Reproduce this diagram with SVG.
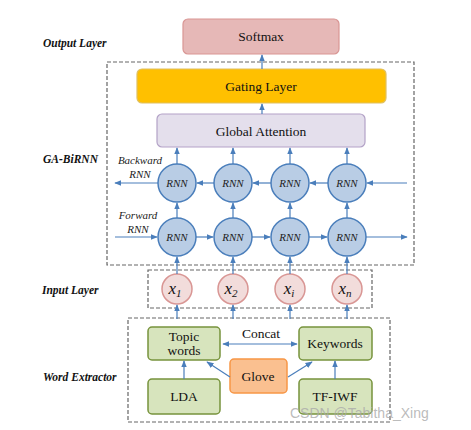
<svg xmlns="http://www.w3.org/2000/svg" width="471" height="430" viewBox="0 0 471 430">
<defs>
<marker id="ah" viewBox="0 0 10 10" refX="9" refY="5" markerWidth="6" markerHeight="6" orient="auto-start-reverse"><path d="M0,1 L10,5 L0,9 z" fill="#4a7ebb"/></marker>
<style>
text{font-family:"Times New Roman","Liberation Serif","DejaVu Serif",serif}
.t{fill:#111;text-anchor:middle}
.lab{font-weight:bold;font-style:italic;font-size:11.5px;fill:#111}
.it{font-style:italic;font-size:11px;fill:#222;text-anchor:middle}
.dash{fill:none;stroke:#666;stroke-width:1.2;stroke-dasharray:4,2}
.rnn{fill:#b9cde5;stroke:#4a7ebb;stroke-width:1.5}
.xin{fill:#f2dcdb;stroke:#d99694;stroke-width:1.5}
.grn{fill:#d7e4bd;stroke:#77933c;stroke-width:1.5}
.ar{stroke:#4a7ebb;stroke-width:1.2;fill:none;marker-end:url(#ah)}
</style>
</defs>
<rect width="471" height="430" fill="#fff"/>
<g id="labels">
<text class="lab" x="43" y="47">Output Layer</text>
<text class="lab" x="43" y="163">GA-BiRNN</text>
<text class="lab" x="42" y="294">Input Layer</text>
<text class="lab" x="43" y="381">Word Extractor</text>
<text class="it" x="140" y="164" font-size="12">Backward</text>
<text class="it" x="140" y="178" font-size="12">RNN</text>
<text class="it" x="138" y="219" font-size="12">Forward</text>
<text class="it" x="138" y="233" font-size="12">RNN</text>
</g>
<g id="frames">
<rect class="dash" x="107" y="62" width="307" height="203"/>
<rect class="dash" x="148" y="270" width="224" height="38"/>
<rect class="dash" x="128" y="318" width="262" height="104"/>
</g>
<g id="softmax"><rect x="183" y="19" width="156" height="35" rx="5" fill="#e6b8b7" stroke="#d99694" stroke-width="1.2"/><text class="t" x="261" y="41" font-size="13.5">Softmax</text></g>
<g id="gating"><rect x="137" y="69" width="249" height="34" rx="5" fill="#ffc000" stroke="#e0c060" stroke-width="1.2"/><text class="t" x="261" y="91" font-size="13.5">Gating Layer</text></g>
<g id="attention"><rect x="157" y="114" width="208" height="33" rx="5" fill="#e4dfec" stroke="#b3a2c7" stroke-width="1.2"/><text class="t" x="261" y="136" font-size="13.5">Global Attention</text></g>
<g id="rnn-b1"><circle class="rnn" cx="177" cy="183" r="19"/><text class="it" x="177" y="187">RNN</text></g>
<g id="rnn-b2"><circle class="rnn" cx="233" cy="183" r="19"/><text class="it" x="233" y="187">RNN</text></g>
<g id="rnn-b3"><circle class="rnn" cx="290" cy="183" r="19"/><text class="it" x="290" y="187">RNN</text></g>
<g id="rnn-b4"><circle class="rnn" cx="347" cy="183" r="19"/><text class="it" x="347" y="187">RNN</text></g>
<g id="rnn-f1"><circle class="rnn" cx="177" cy="237" r="19"/><text class="it" x="177" y="241">RNN</text></g>
<g id="rnn-f2"><circle class="rnn" cx="233" cy="237" r="19"/><text class="it" x="233" y="241">RNN</text></g>
<g id="rnn-f3"><circle class="rnn" cx="290" cy="237" r="19"/><text class="it" x="290" y="241">RNN</text></g>
<g id="rnn-f4"><circle class="rnn" cx="347" cy="237" r="19"/><text class="it" x="347" y="241">RNN</text></g>
<g id="x1"><circle class="xin" cx="177" cy="289" r="15"/><text class="t" x="175" y="294" font-size="17" font-style="italic">x<tspan font-size="11" dy="3">1</tspan></text></g>
<g id="x2"><circle class="xin" cx="233" cy="289" r="15"/><text class="t" x="231" y="294" font-size="17" font-style="italic">x<tspan font-size="11" dy="3">2</tspan></text></g>
<g id="xi"><circle class="xin" cx="290" cy="289" r="15"/><text class="t" x="289" y="294" font-size="17" font-style="italic">x<tspan font-size="11" dy="3">i</tspan></text></g>
<g id="xn"><circle class="xin" cx="347" cy="289" r="15"/><text class="t" x="345" y="294" font-size="17" font-style="italic">x<tspan font-size="11" dy="3">n</tspan></text></g>
<g id="topic"><rect class="grn" x="148" y="327" width="72" height="33" rx="4"/><text class="t" x="184" y="341" font-size="13.5">Topic</text><text class="t" x="184" y="355" font-size="13.5">words</text></g>
<g id="keywords"><rect class="grn" x="299" y="327" width="73" height="33" rx="4"/><text class="t" x="335" y="348" font-size="13.5">Keywords</text></g>
<g id="lda"><rect class="grn" x="148" y="379" width="72" height="35" rx="4"/><text class="t" x="184" y="401" font-size="13.5">LDA</text></g>
<g id="tfiwf"><rect class="grn" x="299" y="379" width="73" height="35" rx="4"/><text class="t" x="335" y="401" font-size="13.5">TF-IWF</text></g>
<g id="glove"><rect x="230" y="359" width="57" height="34" rx="4" fill="#fac090" stroke="#f79646" stroke-width="1.5"/><text class="t" x="258" y="381" font-size="13.5">Glove</text></g>
<g id="connectors">
<line class="ar" x1="262" y1="69" x2="262" y2="55"/>
<line class="ar" x1="262" y1="114" x2="262" y2="104"/>
<line class="ar" x1="177" y1="164" x2="177" y2="148"/>
<line class="ar" x1="233" y1="164" x2="233" y2="148"/>
<line class="ar" x1="290" y1="164" x2="290" y2="148"/>
<line class="ar" x1="347" y1="164" x2="347" y2="148"/>
<line class="ar" x1="177" y1="218" x2="177" y2="203"/>
<line class="ar" x1="233" y1="218" x2="233" y2="203"/>
<line class="ar" x1="290" y1="218" x2="290" y2="203"/>
<line class="ar" x1="347" y1="218" x2="347" y2="203"/>
<line class="ar" x1="407" y1="183" x2="367" y2="183"/>
<line class="ar" x1="328" y1="183" x2="310" y2="183"/>
<line class="ar" x1="271" y1="183" x2="253" y2="183"/>
<line class="ar" x1="214" y1="183" x2="197" y2="183"/>
<line class="ar" x1="158" y1="183" x2="115" y2="183"/>
<line class="ar" x1="115" y1="237" x2="157" y2="237"/>
<line class="ar" x1="196" y1="237" x2="213" y2="237"/>
<line class="ar" x1="252" y1="237" x2="270" y2="237"/>
<line class="ar" x1="309" y1="237" x2="327" y2="237"/>
<line class="ar" x1="366" y1="237" x2="407" y2="237"/>
<line class="ar" x1="177" y1="274" x2="177" y2="257"/>
<line class="ar" x1="233" y1="274" x2="233" y2="257"/>
<line class="ar" x1="290" y1="274" x2="290" y2="257"/>
<line class="ar" x1="347" y1="274" x2="347" y2="257"/>
<line class="ar" x1="177" y1="319" x2="177" y2="305"/>
<line class="ar" x1="233" y1="319" x2="233" y2="305"/>
<line class="ar" x1="290" y1="319" x2="290" y2="305"/>
<line class="ar" x1="347" y1="319" x2="347" y2="305"/>
<line class="ar" x1="184" y1="379" x2="184" y2="361"/>
<line class="ar" x1="335" y1="379" x2="335" y2="361"/>
<line class="ar" x1="230" y1="377" x2="207" y2="362"/>
<line class="ar" x1="288" y1="377" x2="312" y2="362"/>
<line class="ar" x1="223" y1="344" x2="297" y2="344" style="marker-start:url(#ah)"/>
<text class="t" x="261" y="338" font-size="13.5">Concat</text>
</g>
<text x="290" y="418" style="font-family:'Liberation Sans','DejaVu Sans',sans-serif" font-size="14" fill="#aaa" fill-opacity="0.8">CSDN @Tabitha_Xing</text>
</svg>
